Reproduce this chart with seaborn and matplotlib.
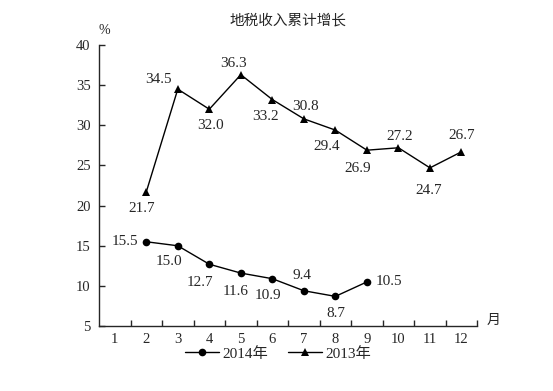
import numpy as np
import pandas as pd
import matplotlib
matplotlib.use("Agg")
import matplotlib.pyplot as plt
import seaborn as sns

# ── Data ──────────────────────────────────────────────────────────────────────
months = list(range(1, 13))
months_2014 = [2, 3, 4, 5, 6, 7, 8, 9]
growth_2014 = [15.5, 15.0, 12.7, 11.6, 10.9, 9.4, 8.7, 10.5]
months_2013 = [2, 3, 4, 5, 6, 7, 8, 9, 10, 11, 12]
growth_2013 = [21.7, 34.5, 32.0, 36.3, 33.2, 30.8, 29.4, 26.9, 27.2, 24.7, 26.7]
series_names = ["2014年", "2013年"]
y_ticks = [5, 10, 15, 20, 25, 30, 35, 40]

# label offsets in points (dx, dy), one per point
off_2014 = [(-15, 0), (-6, -11), (-7, -13), (-4, -13), (-3, -12), (-1, 11), (0, -12), (16, 0)]
off_2013 = [(-3, -12), (-14, 7), (1, -12), (-5, 8), (-5, -12), (1, 9), (-6, -12),
            (-7, -13), (1, 8), (-1, -16), (0, 12)]

df = pd.concat([
    pd.DataFrame({"月": months_2014, "值": growth_2014, "系列": series_names[0]}),
    pd.DataFrame({"月": months_2013, "值": growth_2013, "系列": series_names[1]}),
])

# ── Style ─────────────────────────────────────────────────────────────────────
sns.set_style("ticks")
plt.rcParams["font.family"] = ["Liberation Serif", "Noto Sans CJK SC"]
plt.rcParams["axes.linewidth"] = 1.0

fig = plt.figure(figsize=(5.53, 3.91), dpi=100)
ax = fig.add_axes([0.179, 0.166, 0.684, 0.719])

sns.lineplot(
    data=df, x="月", y="值", hue="系列", style="系列",
    palette=["black", "black"], markers={"2014年": "o", "2013年": "^"},
    dashes=False, markersize=5.5, linewidth=1.0, markeredgewidth=0,
    ax=ax, legend=False,
)

for xs, ys, offs in [(months_2014, growth_2014, off_2014), (months_2013, growth_2013, off_2013)]:
    for x, y, (dx, dy) in zip(xs, ys, offs):
        ax.annotate(f"{y:.1f}", (x, y), xytext=(dx, dy), textcoords="offset points",
                    ha="center", va="center", fontsize=11)

# ── Axes ──────────────────────────────────────────────────────────────────────
ax.set_xlim(0.5, 12.5)
ax.set_ylim(5, 40)
ax.set_xticks(months)
ax.set_xticklabels([str(m) for m in months], fontsize=10.5)
ax.set_xticks(np.arange(1.5, 13, 1), minor=True)
ax.tick_params(axis="x", which="major", length=0, pad=5)
ax.tick_params(axis="x", which="minor", direction="in", length=4, width=1)
ax.set_yticks(y_ticks)
ax.set_yticklabels([str(t) for t in y_ticks], fontsize=10.5)
ax.tick_params(axis="y", direction="in", length=4, width=1, pad=6)
sns.despine(ax=ax)
ax.set_xlabel("")
ax.set_ylabel("")

ax.text(0.0, 1.03, "%", transform=ax.transAxes, ha="left", va="bottom", fontsize=10)
ax.text(1.025, 0.02, "月", transform=ax.transAxes, ha="left", va="center", fontsize=10)
ax.set_title("地税收入累计增长", fontsize=10.5, pad=15)

# legend
handles = [
    plt.Line2D([], [], color="black", marker="o", markersize=5.5, linewidth=1.0, markeredgewidth=0),
    plt.Line2D([], [], color="black", marker="^", markersize=5.5, linewidth=1.0, markeredgewidth=0),
]
fig.legend(handles, series_names, loc="center", bbox_to_anchor=(0.503, 0.095), ncol=2,
           frameon=False, fontsize=11, handlelength=2.2, columnspacing=1.3, handletextpad=0.25,
           borderpad=0)

fig.savefig("out.png", dpi=100, facecolor="white")
